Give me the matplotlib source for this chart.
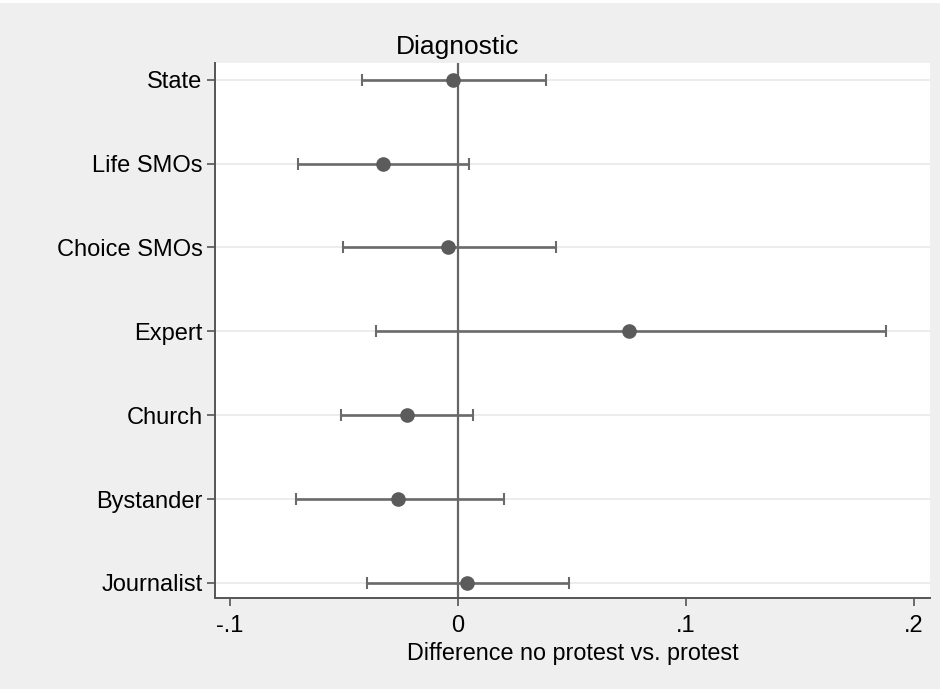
import matplotlib
matplotlib.use("Agg")
import matplotlib.pyplot as plt
from matplotlib.patches import Rectangle

plt.rcParams['font.family'] = ['Liberation Sans', 'DejaVu Sans']

categories = ["State", "Life SMOs", "Choice SMOs", "Expert", "Church", "Bystander", "Journalist"]
estimates = [-0.002, -0.033, -0.0044, 0.075, -0.0224, -0.0263, 0.004]
ci_low = [-0.042, -0.070, -0.0505, -0.036, -0.0513, -0.071, -0.040]
ci_high = [0.0386, 0.005, 0.043, 0.1877, 0.0066, 0.020, 0.0487]
xticks = [-0.1, 0, 0.1, 0.2]
xtick_labels = ["-.1", "0", ".1", ".2"]

bg = "#efefef"
dark = "#5b5b5b"

fig = plt.figure(figsize=(9.4, 6.89), dpi=100, facecolor=bg)
fig.patches.append(Rectangle((0, 0.995), 1, 0.005, transform=fig.transFigure,
                             facecolor="white", edgecolor="none", zorder=0))
ax = fig.add_axes([0.2287, 0.1321, 0.7607, 0.7765])
ax.set_facecolor("white")

n = len(categories)
ypos = [n - 1 - i for i in range(n)]

for y in ypos:
    ax.axhline(y, color="#eaeaea", lw=1.3, zorder=1)
ax.axvline(0, color="#666666", lw=1.6, zorder=2)

xerr = [[e - lo for e, lo in zip(estimates, ci_low)],
        [hi - e for e, hi in zip(estimates, ci_high)]]
ax.errorbar(estimates, ypos, xerr=xerr, fmt="o", color=dark, ecolor="#6a6a6a",
            elinewidth=1.9, capsize=4.5, capthick=1.5, markersize=9.5, zorder=3)

ax.set_xlim(-0.1066, 0.207)
ax.set_ylim(-0.18, 6.2)
ax.set_yticks(ypos)
ax.set_yticklabels(categories)
ax.set_xticks(xticks)
ax.set_xticklabels(xtick_labels)

for side in ("top", "right"):
    ax.spines[side].set_visible(False)
for side in ("left", "bottom"):
    ax.spines[side].set_color("#555555")
    ax.spines[side].set_linewidth(1.4)

ax.tick_params(axis="both", colors="#555555", width=1.2, length=6,
               labelsize=17, labelcolor="black")
ax.tick_params(axis="x", pad=6)
ax.tick_params(axis="y", pad=3)

ax.set_xlabel("Difference no protest vs. protest", fontsize=16.8, labelpad=4)
fig.text(458 / 940, 1 - 47 / 689, "Diagnostic", fontsize=19,
         ha="center", va="center")

fig.savefig("out.png", dpi=100, facecolor=bg)
